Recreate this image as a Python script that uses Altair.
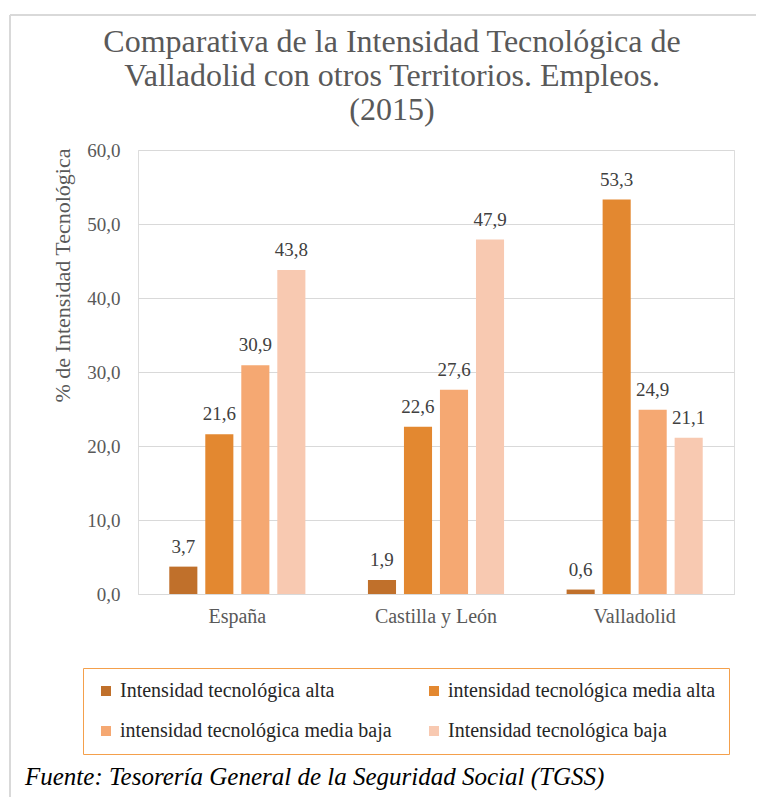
import altair as alt
import pandas as pd

territorios = ["España", "Castilla y León", "Valladolid"]
series = [
    "Intensidad tecnológica alta",
    "intensidad tecnológica media alta",
    "intensidad tecnológica media baja",
    "Intensidad tecnológica baja",
]
colores = ["#C0702B", "#E38830", "#F5A872", "#F8C9B1"]
alta = [3.7, 1.9, 0.6]
media_alta = [21.6, 22.6, 53.3]
media_baja = [30.9, 27.6, 24.9]
baja = [43.8, 47.9, 21.1]
y_ticks = [0, 10, 20, 30, 40, 50, 60]
titulo = "Comparativa de la Intensidad Tecnológica de\nValladolid con otros Territorios. Empleos.\n(2015)"
fuente_txt = "Fuente: Tesorería General de la Seguridad Social (TGSS)"

rows = []
for i, t in enumerate(territorios):
    for s, vals in zip(series, [alta, media_alta, media_baja, baja]):
        rows.append({"territorio": t, "serie": s, "valor": vals[i]})
df = pd.DataFrame(rows)

FONT = "Liberation Serif"
PL, PT = 130, 142
W, H = 596, 444

base = alt.Chart(df).encode(
    x=alt.X(
        "territorio:N",
        sort=territorios,
        scale=alt.Scale(paddingInner=0.275, paddingOuter=0.1375),
        axis=alt.Axis(
            title=None,
            labelAngle=0,
            labelFont=FONT,
            labelFontSize=20,
            labelColor="#595959",
            labelPadding=12,
            ticks=False,
            domainColor="#d9d9d9",
            grid=False,
        ),
    ),
    xOffset=alt.XOffset(
        "serie:N",
        sort=series,
        scale=alt.Scale(domain=series, paddingInner=0.22, paddingOuter=0.11),
    ),
)

bars = base.mark_bar().encode(
    y=alt.Y(
        "valor:Q",
        scale=alt.Scale(domain=[0, 60], nice=False),
        axis=alt.Axis(
            values=y_ticks,
            labelExpr="replace(format(datum.value, '.1f'), '.', ',')",
            labelFont=FONT,
            labelFontSize=19,
            labelColor="#595959",
            labelPadding=18,
            ticks=False,
            domain=False,
            gridColor="#d9d9d9",
            title="% de Intensidad Tecnológica",
            titleFont=FONT,
            titleFontSize=22,
            titleFontWeight="normal",
            titleColor="#595959",
            titleAngle=-90,
            titleX=-76,
            titleY=125,
            titleAlign="center",
            titleBaseline="middle",
        ),
    ),
    color=alt.Color(
        "serie:N",
        sort=series,
        scale=alt.Scale(domain=series, range=colores),
        legend=alt.Legend(
            title=None,
            orient="none",
            legendX=-55,
            legendY=518,
            direction="horizontal",
            columns=2,
            columnPadding=32,
            rowPadding=20,
            symbolType="square",
            symbolSize=100,
            symbolStrokeWidth=0,
            labelFont=FONT,
            labelFontSize=20,
            labelColor="#262626",
            labelOffset=4,
            labelLimit=400,
            strokeColor="#F4A04C",
            padding=13,
            fillColor="white",
        ),
    ),
)

labels = base.mark_text(
    font=FONT, fontSize=19, color="#404040", baseline="alphabetic", dy=-14
).transform_calculate(
    etiqueta="replace(format(datum.valor, '.1f'), '.', ',')"
).encode(
    y=alt.Y("valor:Q"),
    text="etiqueta:N",
)

frame_left = alt.Chart(df).mark_rule(color="#d9d9d9", strokeWidth=1.5).encode(
    x=alt.value(-128), y=alt.value(-135), y2=alt.value(660)
)
frame_top = alt.Chart(df).mark_rule(color="#d9d9d9", strokeWidth=1.5).encode(
    x=alt.value(-128), x2=alt.value(640), y=alt.value(-135)
)

title = alt.Chart(pd.DataFrame({"t": [titulo]})).mark_text(
    font=FONT, fontSize=32, color="#595959", align="center", baseline="middle",
    lineBreak="\n", lineHeight=34,
).encode(x=alt.value(254), y=alt.value(-108), text="t:N")

fuente = alt.Chart(pd.DataFrame({"t": [fuente_txt]})).mark_text(
    font=FONT, fontSize=25, fontStyle="italic", color="#000000", align="left", baseline="alphabetic"
).encode(x=alt.value(-113), y=alt.value(635), text="t:N")

chart = alt.layer(frame_left, frame_top, bars, labels, title, fuente).properties(
    width=W,
    height=H,
    padding={"left": PL, "top": PT, "right": 22, "bottom": 203},
    autosize=alt.AutoSizeParams(type="none"),
).configure_view(stroke=None).configure(background="white")

chart.save("out.html", embed_options={"renderer": "svg", "actions": False})
